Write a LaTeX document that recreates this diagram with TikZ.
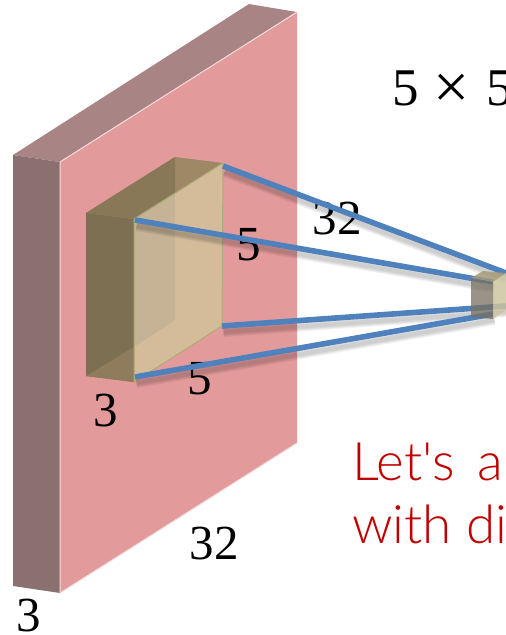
\documentclass[tikz,border=0pt]{standalone}
\usepackage{fontspec}
\setmainfont{Liberation Serif}
\newfontfamily\redfont{Lato Light}
\definecolor{beamblue}{HTML}{4F81BD}
\definecolor{redc}{HTML}{C00000}
\definecolor{plate}{HTML}{E29A9A}
\definecolor{platetop}{HTML}{A88584}
\definecolor{plateleft}{HTML}{8B7070}
\definecolor{blockleft}{HTML}{7D6F52}
\definecolor{blockleftb}{HTML}{8F7C5C}
\definecolor{blocktopa}{HTML}{887858}
\definecolor{blocktopb}{HTML}{9E8866}
\definecolor{blockfrontA}{HTML}{C6B294}
\definecolor{blockfrontB}{HTML}{D4BC9B}
\definecolor{blockedge}{HTML}{ADAC74}
\definecolor{tinyfront}{HTML}{CDC5A0}
\definecolor{tinyleft}{HTML}{77705F}
\definecolor{tinytop}{HTML}{A59A78}
\tikzset{
  lbl/.style={inner sep=0pt,font=\fontsize{49}{49}\selectfont,text=black},
  beam/.style={draw=beamblue,line width=5.6pt},
  beamshade/.style={draw=black,draw opacity=0.05},
  redtxt/.style={anchor=base west,inner sep=0pt,text=redc,font=\fontsize{53}{53}\redfont}
}
\newcommand{\beamline}[2]{%
  \foreach \w in {10,8,6,4}{\draw[beamshade,line width=\w pt] ([shift={(1.5,6)}]#1) -- ([shift={(1.5,6)}]#2);}
  \draw[beam] (#1) -- (#2);}
\begin{document}
\begin{tikzpicture}[x=1pt,y=-1pt]
\useasboundingbox (0,0) rectangle (506,635);
\clip (0,0) rectangle (506,635);
% large slab
\fill[platetop] (13,155) -- (249,4) -- (297,12) -- (60,162) -- cycle;
\fill[plateleft] (13,155) -- (60,162) -- (60,593) -- (13,586) -- cycle;
\fill[plate] (60,162) -- (297,12) -- (297,443) -- (60,593) -- cycle;
\draw[white!65!plate,line width=1pt] (297,12) -- (60,162) -- (60,593) -- (297,443);
% small block on the slab
\coordinate (bA) at (86,213);
\coordinate (bB) at (134,219);
\coordinate (bC) at (134,382);
\coordinate (bD) at (86,376);
\coordinate (bE) at (175,157);
\coordinate (bF) at (223,163);
\coordinate (bG) at (222,326);
\coordinate (bH) at (175,320);
\coordinate (bI) at (134,347);
\coordinate (bJ) at (175,193);
\coordinate (sB) at (135,220);
\coordinate (sC) at (135,377);
\coordinate (sF) at (223,166);
\fill[blockfrontB] (bB) -- (bF) -- (bG) -- (bC) -- cycle;
\fill[blockfrontA] (bB) -- (bJ) -- (bH) -- (bI) -- cycle;
\fill[blocktopb] (bA) -- (bE) -- (bF) -- (bB) -- cycle;
\fill[blocktopa] (bA) -- (bE) -- (bJ) -- (bB) -- cycle;
\fill[blockleft] (bA) -- (bB) -- (bC) -- (bD) -- cycle;
\fill[blockleftb] (bD) -- (bI) -- (bC) -- cycle;
\draw[blockedge,line width=1pt] (bB) -- (bF) -- (bG) -- (bC) -- (bB);
% labels
\node[lbl] (n32a) at (337,219) {32};
\node[lbl] (n5a) at (249,245) {5};
\node[lbl] (n5b) at (200,379) {5};
\node[lbl] (n3a) at (106,411) {3};
\node[lbl] (n32b) at (214,544) {32};
\node[lbl] (n3b) at (29,616) {3};
\node[lbl,font=\fontsize{53}{53}\selectfont] (tl) at (406,88) {5};
\node[lbl,font=\fontsize{64}{64}\selectfont] (tm) at (452,91) {×};
\node[lbl,anchor=west,font=\fontsize{53}{53}\selectfont] (tr) at (486,88) {5};
\node[redtxt] (ra) at (352,480) {Let's\hspace{.42em}a};
\node[redtxt] (rb) at (352,543) {with di};
% tiny block end points
\coordinate (tA) at (471,278);
\coordinate (tB) at (493,282);
\coordinate (tC) at (493,319);
\coordinate (tD) at (471,317);
\coordinate (tE) at (483,271);
\coordinate (tF) at (506,273);
\coordinate (tG) at (506,310);
\coordinate (tH) at (506,306);
\coordinate (tJ) at (493,314);
% beams
\beamline{sF}{tF}
\beamline{sB}{tB}
\beamline{bG}{tH}
\beamline{sC}{tJ}
% tiny block, translucent over the beams
\fill[tinyfront,fill opacity=.85] (tB) -- (tF) -- (tG) -- (tC) -- cycle;
\fill[tinytop,fill opacity=.85] (tA) -- (tE) -- (tF) -- (tB) -- cycle;
\fill[tinyleft,fill opacity=.75] (tA) -- (tB) -- (tC) -- (tD) -- cycle;
\end{tikzpicture}
\end{document}
